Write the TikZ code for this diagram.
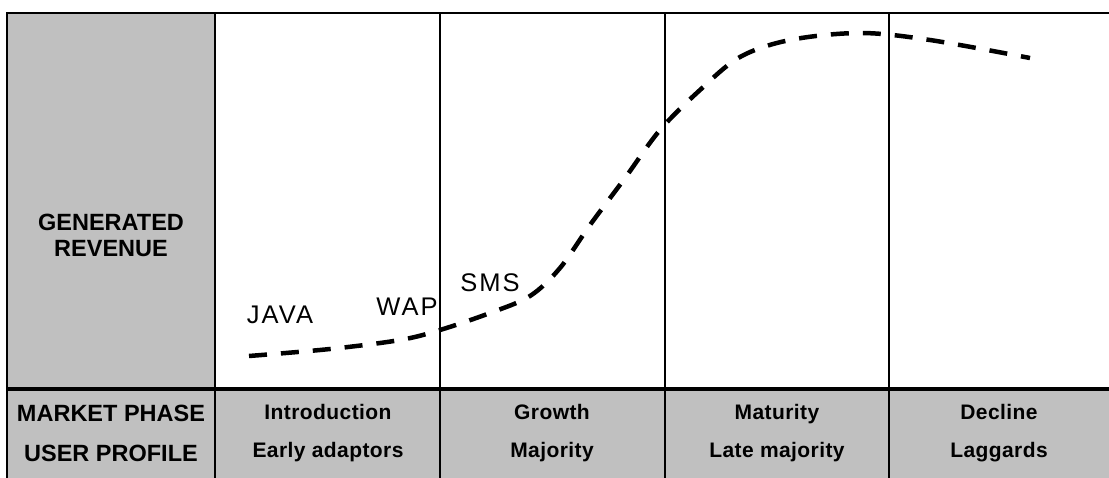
\documentclass[tikz,border=0pt]{standalone}
\usepackage{fontspec}
\setmainfont{Liberation Sans}
\usepackage{xcolor}
\usetikzlibrary{positioning}

\definecolor{cellgrey}{RGB}{192,192,192}

\begin{document}
\begin{tikzpicture}[
  x = 0.6pt, y = -0.6pt,
  hdr/.style     = {font=\fontsize{14.1}{24}\selectfont\bfseries,
                    align=center, inner sep=0pt},
  phase/.style   = {font=\fontsize{12.6}{22.8}\selectfont\bfseries\addfontfeatures{LetterSpace=2},
                    align=center, inner sep=0pt},
  tech/.style    = {font=\fontsize{15.3}{18}\selectfont\addfontfeatures{LetterSpace=8},
                    inner sep=0pt},
  grid/.style    = {line width=1.2pt},
  split/.style   = {line width=2.1pt},
  revenue/.style = {line width=2.7pt, dash pattern=on 10.8pt off 8.4pt},
]
\useasboundingbox (0,0) rectangle (1109,478);

% grey cells
\fill[cellgrey] (7,13) rectangle (215,478);
\fill[cellgrey] (215,389) rectangle (1109,478);

% frame and columns
\draw[grid] (7,478) -- (7,13) -- (1109,13);
\foreach \x in {215,440,665,889}
  \draw[grid] (\x,13) -- (\x,478);
\draw[split] (7,389) -- (1109,389);

% row headers
\node[hdr, font=\fontsize{14.1}{15.6}\selectfont\bfseries] (gen) at (111,235) {GENERATED\\REVENUE};
\node[hdr] (mkt) at (111,433) {MARKET PHASE\\USER PROFILE};

% phases
\node[phase] (intro) at (328,433) {Introduction\\Early adaptors};
\node[phase] (grow)  at (552,433) {Growth\\Majority};
\node[phase] (mat)   at (777,433) {Maturity\\Late majority};
\node[phase] (dec)   at (999,433) {Decline\\Laggards};

% technologies
\node[tech] (java) at (280,315) {JAVA};
\node[tech] (wap)  at (407,307) {WAP};
\node[tech] (sms)  at (490,283) {SMS};

% revenue curve
\draw[revenue] plot[smooth, tension=0.55] coordinates {
  (249,356) (330,349) (400,340) (440,330) (490,313) (530,296)
  (560,268) (590,225) (625,178) (660,130) (700,90) (740,57)
  (790,40) (860,33) (930,40) (1030,58)};
\end{tikzpicture}
\end{document}
